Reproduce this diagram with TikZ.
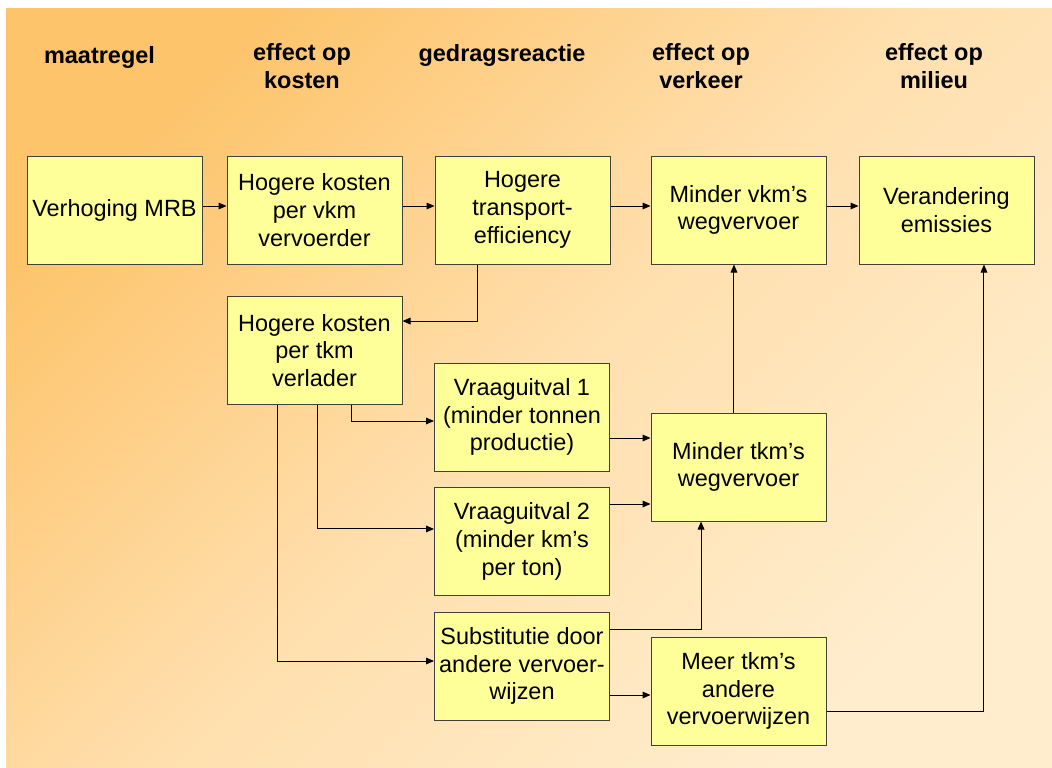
\documentclass[tikz,border=0pt]{standalone}
\usepackage{fontspec}
\setmainfont{Liberation Sans}
\usetikzlibrary{arrows.meta,positioning,calc}
\definecolor{Peach}{HTML}{FDC46C}
\definecolor{Sand}{HTML}{FFDFAD}
\definecolor{Cream}{HTML}{FFEDCE}
\definecolor{Lemon}{HTML}{FFFF99}
\definecolor{Edge}{HTML}{404040}
\colorlet{boxfill}{Lemon}

\begin{document}
\begin{tikzpicture}[x=0.75pt,y=-0.75pt,font=\fontsize{17.6}{20.8}\selectfont,
    blk/.style={draw=Edge,fill=boxfill,line width=0.75pt,minimum width=131.25pt,minimum height=81pt,align=center,inner sep=2pt},
    hdr/.style={font=\fontsize{17.6}{20.8}\selectfont\bfseries,align=center},
    arr/.style={-{Triangle[length=6pt,width=5pt]},line width=0.75pt}]
    \useasboundingbox (0,0) rectangle (1052,767);
    \shade[top color=Peach,bottom color=Cream,middle color=Sand,shading angle=45] (6,9) rectangle (1052,767);
    \node[hdr] (h1) at (99.5,57){maatregel};
    \node[hdr] (h2) at (302,66){effect op\\kosten};
    \node[hdr] (h3) at (502,55){gedragsreactie};
    \node[hdr] (h4) at (701,66){effect op\\verkeer};
    \node[hdr] (h5) at (934,66){effect op\\milieu};
    \node[blk] (mrb) at (114.5,210){Verhoging MRB};
    \node[blk] (kvkm) at (314.5,210){Hogere kosten\\per vkm\\vervoerder};
    \node[blk] (eff) at (522.5,210){Hogere\\transport-\\efficiency};
    \node[blk] (vkm) at (738.5,210){Minder vkm’s\\wegvervoer};
    \node[blk] (emis) at (946.5,210){Verandering\\emissies};
    \node[blk] (ktkm) at (314.5,350.5){Hogere kosten\\per tkm\\verlader};
    \node[blk] (vu1) at (522,417){Vraaguitval 1\\(minder tonnen\\productie)};
    \node[blk] (vu2) at (522,541.5){Vraaguitval 2\\(minder km’s\\per ton)};
    \node[blk] (subst) at (522,666){Substitutie door\\andere vervoer-\\wijzen};
    \node[blk] (tkm) at (738.5,467){Minder tkm’s\\wegvervoer};
    \node[blk] (meer) at (738.5,691){Meer tkm’s\\andere\\vervoerwijzen};
    \foreach \a/\b in {mrb/kvkm,kvkm/eff,eff/vkm,vkm/emis}{\draw[arr] ([yshift=3pt]\a.east)--([yshift=3pt]\b.west);}
    \draw[arr] ([xshift=-34.1pt]eff.south) |- ([yshift=22.1pt]ktkm.east);
    \draw[arr] ([xshift=27.4pt]ktkm.south) |- ([yshift=-3pt]vu1.west);
    \draw[arr] ([xshift=2.6pt]ktkm.south) |- ([yshift=9.4pt]vu2.west);
    \draw[arr] ([xshift=-28.1pt]ktkm.south) |- ([yshift=3.75pt]subst.west);
    \draw[arr] ([yshift=21.75pt]tkm.west -| vu1.east) -- ([yshift=21.75pt]tkm.west);
    \draw[arr] ([yshift=-27.75pt]tkm.west -| vu2.east) -- ([yshift=-27.75pt]tkm.west);
    \draw[arr] ([yshift=27.75pt]subst.east) -| ([xshift=-28.1pt]tkm.south);
    \draw[arr] ([yshift=-3pt]meer.west -| subst.east) -- ([yshift=-3pt]meer.west);
    \draw[arr] ([xshift=-3.4pt]tkm.north) -- ([xshift=-3.4pt]vkm.south);
    \draw[arr] ([yshift=-15pt]meer.east) -| ([xshift=28.1pt]emis.south);
  \end{tikzpicture}
\end{document}
